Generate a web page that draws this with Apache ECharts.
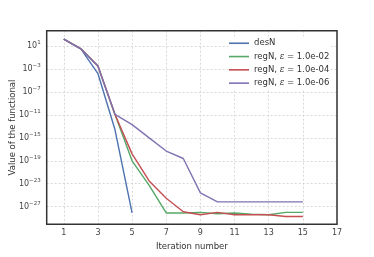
<!DOCTYPE html>
<html><head><meta charset="utf-8">
<script src="https://cdn.jsdelivr.net/npm/echarts@6/dist/echarts.min.js"></script>
<style>html,body{margin:0;padding:0;background:#fff}#c{width:374px;height:257px}</style>
</head><body><div id="c"></div>
<script>
// Data
var iterDes = [1, 2, 3, 4, 5];
var desN = [1.6e2, 3.2, 1.6e-4, 2.5e-14, 8e-29];
var iterReg = [1, 2, 3, 4, 5, 6, 7, 8, 9, 10, 11, 12, 13, 14, 15];
var reg2 = [1.6e2, 3.2, 3.2e-3, 1.2e-11, 1e-19, 5e-24, 8e-29, 8e-29, 1e-28, 6e-29, 8e-29, 5e-29, 4e-29, 1e-28, 1e-28];
var reg4 = [1.6e2, 3.2, 3.2e-3, 1.2e-11, 1.6e-18, 3e-23, 3e-26, 1.3e-28, 4e-29, 1e-28, 4e-29, 4e-29, 4e-29, 2e-29, 2e-29];
var reg6 = [1.6e2, 3.2, 3.2e-3, 1.2e-11, 2e-13, 1e-15, 5e-18, 2.5e-19, 2.5e-25, 7e-27, 7e-27, 7e-27, 7e-27, 7e-27, 7e-27];
var xTicks = [1, 3, 5, 7, 9, 11, 13, 15, 17];
var yTickExps = [-27, -23, -19, -15, -11, -7, -3, 1];
var names = ['desN', 'regN, ε = 1.0e-02', 'regN, ε = 1.0e-04', 'regN, ε = 1.0e-06'];
var colors = ['#4c72b0', '#55a868', '#c44e52', '#8172b2'];

function pts(xs, ys) { return xs.map(function (x, i) { return [x, Math.log10(ys[i])]; }); }

var font = 'DejaVu Sans';
var chart = echarts.init(document.getElementById('c'), null, {renderer: 'canvas'});
var seriesData = [pts(iterDes, desN), pts(iterReg, reg2), pts(iterReg, reg4), pts(iterReg, reg6)];
chart.setOption({
  animation: false,
  backgroundColor: '#fff',
  grid: {left: 46.7, right: 37, top: 30.7, bottom: 32.7, containLabel: false, outerBoundsMode: 'none',
    show: true, borderColor: '#333', borderWidth: 1.5, backgroundColor: 'transparent', z: 10},
  legend: {
    orient: 'vertical', left: 229, top: 36.6, itemWidth: 20, itemHeight: 1.6, itemGap: 0,
    icon: 'rect',
    backgroundColor: '#fff', padding: 0,
    data: names,
    textStyle: {fontFamily: font, fontSize: 8.5, color: '#333', lineHeight: 13.3,
      rich: {e: {fontFamily: 'DejaVu Serif', fontStyle: 'italic', fontSize: 8.5, color: '#333', lineHeight: 13.3}}},
    formatter: function (n) { return n.replace('ε', '{e|ε}'); }
  },
  xAxis: {
    type: 'value', min: 0, max: 17,
    name: 'Iteration number', nameLocation: 'middle', nameGap: 17,
    nameTextStyle: {fontFamily: font, fontSize: 8.5, color: '#333'},
    axisLine: {show: false}, axisTick: {show: false, customValues: xTicks},
    axisLabel: {customValues: xTicks, fontFamily: font, fontSize: 8, color: '#444', margin: 5},
    splitLine: {show: true, lineStyle: {color: '#d0d0d0', type: [2, 2], width: 0.8}}
  },
  yAxis: {
    type: 'value', min: -30.07, max: 3.67,
    name: 'Value of the functional', nameLocation: 'middle', nameGap: 29, nameRotate: 90,
    nameMoveOverlap: false,
    nameTextStyle: {fontFamily: font, fontSize: 8.5, color: '#333'},
    axisLine: {show: false}, axisTick: {show: false, customValues: yTickExps},
    axisLabel: {customValues: yTickExps, fontFamily: font, color: '#444', margin: 6,
      formatter: function (v) { return '{b|10}{s|' + String(v).replace('-', '−') + '}'; },
      rich: {b: {fontFamily: font, fontSize: 8, color: '#444'},
             s: {fontFamily: font, fontSize: 5.5, color: '#444', verticalAlign: 'bottom', padding: [0, 0, 6, 0]}}},
    splitLine: {show: true, lineStyle: {color: '#d0d0d0', type: [2, 2], width: 0.8}}
  },
  series: seriesData.map(function (d, i) {
    return {type: 'line', name: names[i], data: d, symbol: 'none', color: colors[i],
      lineStyle: {width: 1.4, color: colors[i]}, z: 2 + i};
  })
});
</script></body></html>
